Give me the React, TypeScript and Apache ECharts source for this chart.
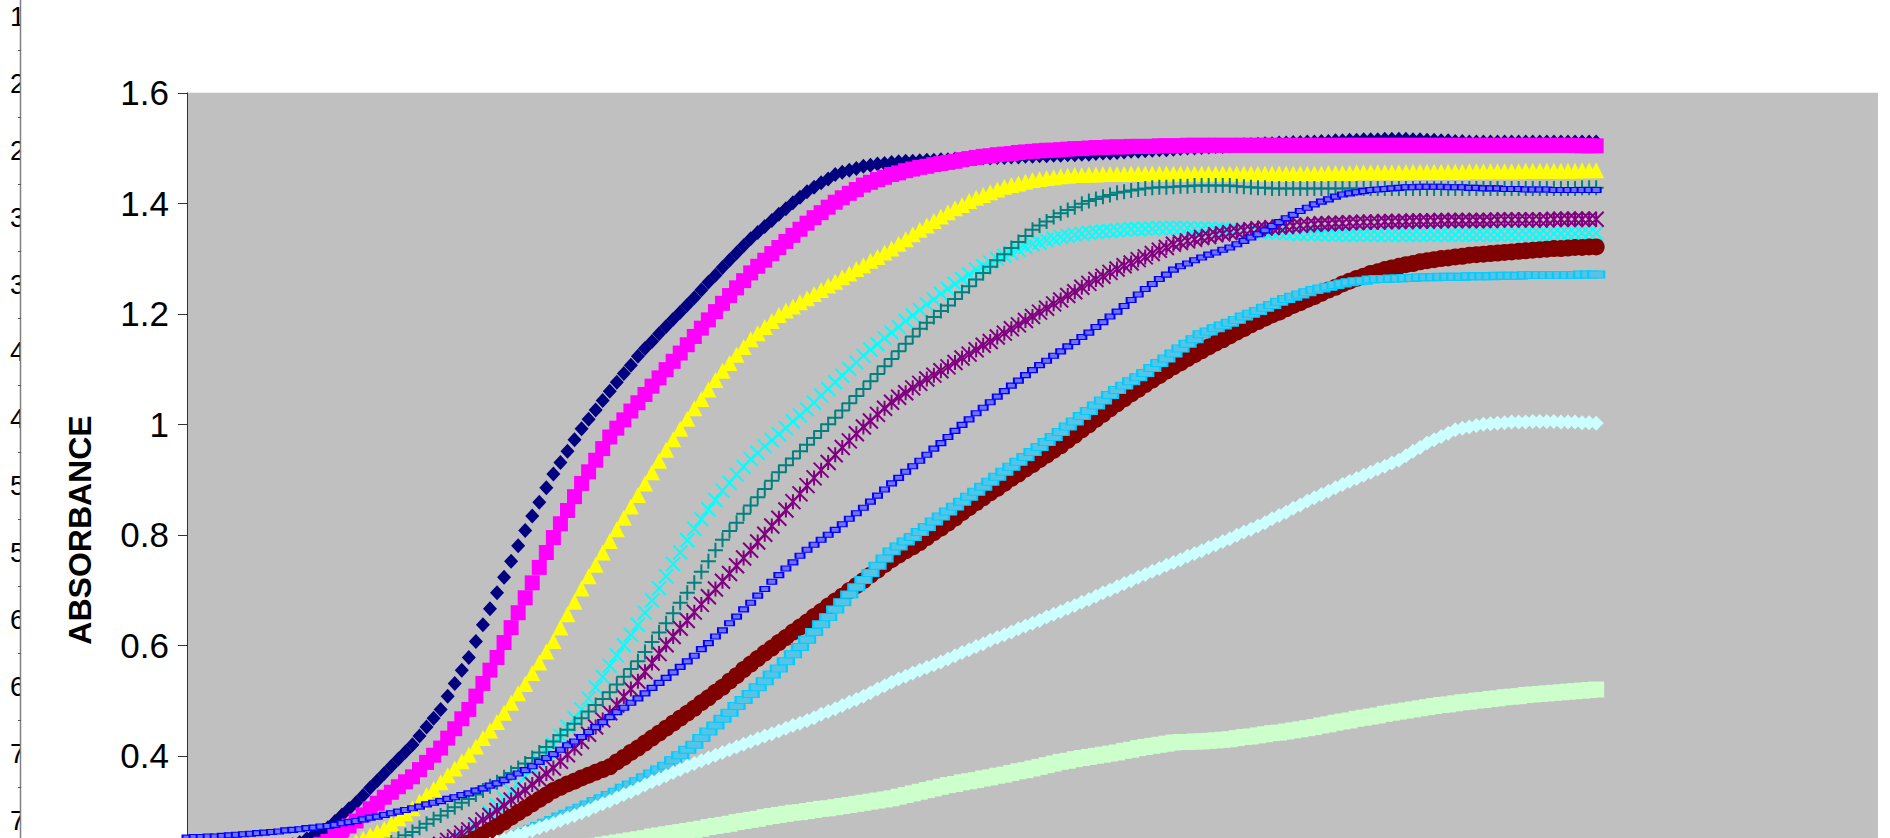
import React, { useEffect, useRef } from "react";
import * as echarts from "echarts";

// Absorbance readings taken every 15 s (0.25 min) from 0 to 50 min.
const READING_STEP_MIN = 0.25;

const Y_MIN = 0.2;
const Y_MAX = 1.6;
const Y_STEP = 0.2;
const X_MIN = 0;
const X_MAX = 60;
const X_STEP = 10;

const Y_TITLE = "ABSORBANCE";

// First characters of the neighbouring chart's axis labels, peeking out on the left.
const SIDE_LABELS = ["1", "2", "2", "3", "3", "4", "4", "5", "5", "6", "6", "7", "7"];

const NAVY = [
  .210, .211, .212, .212, .213, .214, .216, .217,
  .218, .220, .223, .225, .227, .231, .235, .239,
  .243, .250, .257, .263, .270, .281, .293, .304,
  .315, .328, .342, .355, .368, .381, .394, .407,
  .420, .436, .452, .468, .484, .508, .531, .555,
  .578, .607, .637, .666, .695, .723, .752, .780,
  .808, .834, .859, .885, .910, .931, .951, .972,
  .992, 1.009, 1.026, 1.043, 1.060, 1.076, 1.092, 1.107,
  1.123, 1.137, 1.150, 1.164, 1.177, 1.190, 1.203, 1.216,
  1.229, 1.243, 1.257, 1.270, 1.284, 1.297, 1.310, 1.323,
  1.336, 1.347, 1.358, 1.369, 1.380, 1.390, 1.401, 1.411,
  1.421, 1.429, 1.437, 1.444, 1.452, 1.456, 1.460, 1.463,
  1.467, 1.469, 1.471, 1.472, 1.474, 1.475, 1.476, 1.476,
  1.477, 1.478, 1.478, 1.479, 1.479, 1.480, 1.480, 1.481,
  1.481, 1.482, 1.482, 1.483, 1.483, 1.484, 1.484, 1.485,
  1.485, 1.486, 1.486, 1.487, 1.487, 1.488, 1.488, 1.489,
  1.489, 1.490, 1.491, 1.491, 1.492, 1.493, 1.494, 1.494,
  1.495, 1.496, 1.497, 1.497, 1.498, 1.499, 1.500, 1.500,
  1.501, 1.502, 1.503, 1.503, 1.504, 1.505, 1.506, 1.506,
  1.507, 1.508, 1.508, 1.509, 1.509, 1.510, 1.510, 1.511,
  1.511, 1.512, 1.512, 1.513, 1.513, 1.514, 1.514, 1.515,
  1.515, 1.515, 1.516, 1.516, 1.516, 1.516, 1.515, 1.515,
  1.514, 1.514, 1.513, 1.513, 1.512, 1.512, 1.511, 1.511,
  1.511, 1.511, 1.511, 1.511, 1.511, 1.511, 1.511, 1.511,
  1.511, 1.511, 1.511, 1.511, 1.511, 1.511, 1.511, 1.511,
  1.511,
];

const MAGENTA = [
  .205, .206, .206, .207, .207, .208, .209, .209,
  .210, .211, .213, .214, .215, .218, .220, .223,
  .225, .230, .235, .240, .245, .254, .264, .273,
  .282, .293, .304, .314, .325, .334, .344, .353,
  .362, .375, .388, .401, .414, .432, .449, .467,
  .484, .508, .531, .555, .578, .605, .632, .659,
  .686, .713, .741, .768, .795, .820, .844, .869,
  .893, .914, .935, .956, .977, .993, 1.008, 1.024,
  1.039, 1.054, 1.069, 1.084, 1.099, 1.114, 1.129, 1.144,
  1.159, 1.174, 1.189, 1.204, 1.219, 1.233, 1.247, 1.260,
  1.274, 1.286, 1.297, 1.309, 1.320, 1.331, 1.342, 1.353,
  1.364, 1.374, 1.383, 1.393, 1.402, 1.410, 1.418, 1.425,
  1.433, 1.438, 1.443, 1.447, 1.452, 1.455, 1.459, 1.462,
  1.465, 1.467, 1.470, 1.472, 1.474, 1.476, 1.479, 1.481,
  1.483, 1.485, 1.486, 1.488, 1.489, 1.490, 1.492, 1.493,
  1.494, 1.495, 1.496, 1.496, 1.497, 1.498, 1.499, 1.499,
  1.500, 1.501, 1.501, 1.502, 1.502, 1.502, 1.503, 1.503,
  1.503, 1.503, 1.504, 1.504, 1.504, 1.504, 1.505, 1.505,
  1.505, 1.505, 1.505, 1.505, 1.505, 1.505, 1.505, 1.505,
  1.505, 1.505, 1.505, 1.505, 1.505, 1.505, 1.505, 1.505,
  1.505, 1.505, 1.505, 1.505, 1.505, 1.505, 1.505, 1.505,
  1.505, 1.505, 1.505, 1.505, 1.505, 1.505, 1.505, 1.505,
  1.505, 1.505, 1.505, 1.505, 1.505, 1.505, 1.505, 1.505,
  1.505, 1.505, 1.505, 1.505, 1.505, 1.505, 1.505, 1.505,
  1.505, 1.505, 1.505, 1.505, 1.505, 1.505, 1.504, 1.504,
  1.504,
];

const YELLOW = [
  .200, .201, .201, .202, .202, .203, .204, .204,
  .205, .206, .207, .208, .209, .211, .213, .214,
  .216, .219, .222, .225, .228, .232, .236, .240,
  .244, .250, .256, .262, .268, .277, .287, .296,
  .305, .317, .329, .340, .352, .365, .377, .390,
  .402, .417, .432, .446, .461, .478, .496, .513,
  .530, .550, .569, .589, .608, .632, .656, .679,
  .703, .725, .746, .768, .789, .810, .831, .851,
  .872, .893, .913, .934, .954, .973, .992, 1.010,
  1.029, 1.046, 1.063, 1.080, 1.097, 1.111, 1.126, 1.140,
  1.154, 1.165, 1.176, 1.187, 1.198, 1.206, 1.213, 1.221,
  1.228, 1.236, 1.243, 1.251, 1.258, 1.266, 1.273, 1.281,
  1.288, 1.296, 1.303, 1.311, 1.318, 1.327, 1.335, 1.344,
  1.352, 1.360, 1.368, 1.376, 1.384, 1.391, 1.397, 1.404,
  1.410, 1.415, 1.420, 1.425, 1.430, 1.433, 1.436, 1.439,
  1.442, 1.444, 1.446, 1.447, 1.449, 1.450, 1.451, 1.451,
  1.452, 1.452, 1.453, 1.453, 1.453, 1.453, 1.454, 1.454,
  1.454, 1.454, 1.454, 1.454, 1.454, 1.454, 1.454, 1.454,
  1.454, 1.454, 1.454, 1.454, 1.454, 1.454, 1.454, 1.454,
  1.454, 1.454, 1.454, 1.454, 1.454, 1.454, 1.454, 1.454,
  1.454, 1.454, 1.455, 1.455, 1.455, 1.455, 1.456, 1.456,
  1.456, 1.456, 1.456, 1.456, 1.456, 1.456, 1.457, 1.457,
  1.457, 1.457, 1.457, 1.457, 1.457, 1.457, 1.458, 1.458,
  1.458, 1.458, 1.458, 1.458, 1.458, 1.458, 1.459, 1.459,
  1.459, 1.459, 1.459, 1.459, 1.459, 1.459, 1.460, 1.460,
  1.460,
];

const CYAN = [
  .195, .196, .196, .197, .197, .198, .198, .199,
  .199, .200, .200, .201, .201, .202, .203, .203,
  .204, .205, .206, .207, .208, .209, .210, .210,
  .211, .212, .213, .214, .215, .216, .218, .219,
  .220, .223, .225, .228, .230, .237, .244, .251,
  .258, .271, .284, .297, .310, .323, .336, .349,
  .362, .377, .391, .406, .420, .436, .452, .468,
  .484, .504, .524, .543, .563, .582, .600, .619,
  .637, .659, .681, .703, .725, .747, .768, .790,
  .811, .828, .846, .863, .880, .894, .909, .923,
  .937, .948, .960, .971, .982, .993, 1.005, 1.016,
  1.027, 1.039, 1.052, 1.064, 1.076, 1.088, 1.100, 1.112,
  1.124, 1.135, 1.145, 1.156, 1.166, 1.176, 1.187, 1.197,
  1.207, 1.217, 1.226, 1.236, 1.245, 1.254, 1.263, 1.271,
  1.280, 1.286, 1.293, 1.299, 1.305, 1.310, 1.316, 1.321,
  1.326, 1.329, 1.333, 1.336, 1.339, 1.341, 1.343, 1.345,
  1.347, 1.348, 1.349, 1.350, 1.351, 1.352, 1.353, 1.353,
  1.354, 1.354, 1.355, 1.355, 1.355, 1.355, 1.355, 1.354,
  1.354, 1.354, 1.353, 1.353, 1.352, 1.351, 1.351, 1.350,
  1.349, 1.348, 1.348, 1.347, 1.346, 1.346, 1.345, 1.345,
  1.344, 1.344, 1.344, 1.343, 1.343, 1.343, 1.343, 1.343,
  1.343, 1.343, 1.343, 1.343, 1.343, 1.343, 1.343, 1.343,
  1.343, 1.343, 1.343, 1.343, 1.343, 1.343, 1.343, 1.343,
  1.343, 1.343, 1.343, 1.343, 1.343, 1.343, 1.344, 1.344,
  1.344, 1.344, 1.345, 1.345, 1.345, 1.345, 1.346, 1.346,
  1.346,
];

const PURPLE = [
  .185, .186, .186, .187, .187, .188, .188, .189,
  .189, .190, .191, .191, .192, .193, .194, .195,
  .196, .197, .199, .200, .201, .203, .204, .206,
  .207, .209, .211, .212, .214, .217, .219, .222,
  .224, .228, .232, .236, .240, .247, .253, .260,
  .266, .275, .284, .292, .301, .310, .320, .329,
  .338, .348, .358, .368, .378, .390, .402, .414,
  .426, .439, .452, .465, .478, .492, .507, .521,
  .535, .552, .568, .585, .601, .616, .631, .645,
  .660, .674, .688, .702, .716, .730, .744, .758,
  .772, .787, .801, .816, .830, .845, .860, .874,
  .889, .903, .917, .931, .945, .958, .970, .983,
  .995, 1.006, 1.018, 1.029, 1.040, 1.049, 1.057, 1.066,
  1.074, 1.082, 1.089, 1.097, 1.104, 1.112, 1.120, 1.127,
  1.135, 1.143, 1.150, 1.158, 1.165, 1.173, 1.180, 1.188,
  1.195, 1.203, 1.210, 1.218, 1.225, 1.233, 1.240, 1.248,
  1.255, 1.262, 1.268, 1.275, 1.281, 1.287, 1.292, 1.298,
  1.303, 1.309, 1.315, 1.320, 1.326, 1.329, 1.332, 1.335,
  1.338, 1.340, 1.343, 1.345, 1.347, 1.349, 1.351, 1.352,
  1.354, 1.355, 1.356, 1.357, 1.358, 1.359, 1.360, 1.361,
  1.362, 1.363, 1.363, 1.364, 1.364, 1.365, 1.365, 1.366,
  1.366, 1.366, 1.367, 1.367, 1.367, 1.367, 1.368, 1.368,
  1.368, 1.368, 1.369, 1.369, 1.369, 1.369, 1.369, 1.369,
  1.369, 1.369, 1.370, 1.370, 1.370, 1.370, 1.370, 1.370,
  1.370, 1.370, 1.371, 1.371, 1.371, 1.371, 1.371, 1.371,
  1.371,
];

const MAROON = [
  .180, .181, .181, .182, .182, .183, .183, .184,
  .184, .185, .185, .186, .186, .187, .188, .188,
  .189, .190, .191, .192, .193, .194, .196, .197,
  .198, .200, .202, .203, .205, .208, .210, .213,
  .215, .218, .222, .225, .228, .232, .235, .239,
  .242, .250, .257, .265, .272, .280, .289, .297,
  .305, .313, .321, .329, .337, .343, .349, .354,
  .360, .365, .370, .375, .380, .389, .397, .406,
  .414, .423, .432, .441, .450, .459, .468, .477,
  .486, .496, .505, .515, .524, .535, .545, .556,
  .566, .576, .586, .595, .605, .614, .624, .633,
  .642, .652, .661, .671, .680, .689, .699, .708,
  .717, .727, .736, .746, .755, .763, .771, .778,
  .786, .795, .804, .812, .821, .830, .840, .849,
  .858, .867, .876, .884, .893, .902, .910, .919,
  .927, .936, .944, .953, .961, .971, .980, .990,
  .999, 1.009, 1.018, 1.028, 1.037, 1.046, 1.055, 1.063,
  1.072, 1.080, 1.088, 1.096, 1.104, 1.111, 1.119, 1.126,
  1.133, 1.140, 1.147, 1.153, 1.160, 1.167, 1.173, 1.180,
  1.186, 1.192, 1.198, 1.203, 1.209, 1.215, 1.220, 1.226,
  1.231, 1.237, 1.243, 1.248, 1.254, 1.259, 1.264, 1.268,
  1.273, 1.276, 1.280, 1.283, 1.286, 1.289, 1.291, 1.294,
  1.296, 1.298, 1.300, 1.301, 1.303, 1.304, 1.306, 1.307,
  1.308, 1.309, 1.310, 1.311, 1.312, 1.313, 1.314, 1.315,
  1.316, 1.317, 1.318, 1.318, 1.319, 1.320, 1.320, 1.321,
  1.321,
];

const TEAL = [
  .190, .191, .191, .192, .192, .193, .194, .194,
  .195, .196, .197, .198, .199, .201, .202, .204,
  .205, .207, .209, .210, .212, .215, .217, .220,
  .222, .226, .230, .233, .237, .243, .250, .256,
  .262, .270, .277, .285, .292, .300, .307, .315,
  .322, .330, .337, .345, .352, .361, .369, .378,
  .386, .396, .406, .416, .426, .437, .447, .458,
  .468, .480, .492, .503, .515, .529, .543, .557,
  .571, .588, .606, .623, .640, .658, .677, .695,
  .713, .733, .752, .772, .791, .807, .822, .838,
  .853, .868, .883, .898, .913, .926, .938, .951,
  .963, .975, .988, 1.000, 1.012, 1.025, 1.038, 1.051,
  1.064, 1.078, 1.091, 1.105, 1.118, 1.132, 1.146, 1.159,
  1.173, 1.184, 1.194, 1.205, 1.215, 1.227, 1.239, 1.250,
  1.262, 1.274, 1.285, 1.297, 1.308, 1.319, 1.330, 1.341,
  1.352, 1.360, 1.367, 1.375, 1.382, 1.388, 1.393, 1.399,
  1.404, 1.408, 1.412, 1.415, 1.419, 1.421, 1.423, 1.425,
  1.427, 1.428, 1.429, 1.429, 1.430, 1.431, 1.431, 1.432,
  1.432, 1.432, 1.432, 1.432, 1.432, 1.431, 1.430, 1.429,
  1.428, 1.428, 1.427, 1.427, 1.427, 1.427, 1.427, 1.427,
  1.427, 1.427, 1.427, 1.427, 1.427, 1.427, 1.427, 1.427,
  1.427, 1.427, 1.427, 1.427, 1.427, 1.427, 1.427, 1.427,
  1.427, 1.427, 1.427, 1.427, 1.427, 1.427, 1.427, 1.427,
  1.427, 1.427, 1.427, 1.427, 1.427, 1.427, 1.427, 1.427,
  1.427, 1.427, 1.427, 1.427, 1.427, 1.427, 1.428, 1.428,
  1.428,
];

const BLUE = [
  .252, .253, .253, .254, .254, .255, .256, .257,
  .258, .259, .260, .261, .262, .263, .265, .266,
  .267, .269, .270, .272, .273, .275, .278, .280,
  .282, .285, .288, .290, .293, .296, .299, .302,
  .305, .308, .312, .315, .318, .322, .325, .329,
  .332, .337, .341, .346, .350, .356, .362, .368,
  .374, .381, .389, .396, .403, .411, .419, .426,
  .434, .443, .452, .461, .470, .479, .487, .496,
  .504, .513, .523, .532, .541, .551, .561, .571,
  .581, .593, .604, .616, .627, .640, .652, .665,
  .677, .690, .702, .715, .727, .739, .750, .762,
  .773, .782, .791, .800, .809, .819, .829, .839,
  .849, .860, .871, .882, .893, .903, .914, .924,
  .934, .945, .956, .966, .977, .988, .999, 1.009,
  1.020, 1.030, 1.040, 1.050, 1.060, 1.070, 1.079, 1.089,
  1.098, 1.107, 1.115, 1.124, 1.132, 1.141, 1.149, 1.158,
  1.166, 1.176, 1.185, 1.195, 1.204, 1.214, 1.225, 1.235,
  1.245, 1.254, 1.263, 1.271, 1.280, 1.286, 1.291, 1.297,
  1.302, 1.307, 1.311, 1.316, 1.320, 1.326, 1.332, 1.338,
  1.344, 1.351, 1.359, 1.366, 1.373, 1.379, 1.386, 1.392,
  1.398, 1.403, 1.407, 1.412, 1.416, 1.418, 1.420, 1.422,
  1.424, 1.425, 1.426, 1.427, 1.428, 1.429, 1.429, 1.430,
  1.430, 1.430, 1.430, 1.429, 1.429, 1.429, 1.428, 1.428,
  1.427, 1.427, 1.427, 1.426, 1.426, 1.426, 1.425, 1.425,
  1.425, 1.425, 1.424, 1.424, 1.424, 1.424, 1.424, 1.424,
  1.424,
];

const SKY_BLUE = [
  .175, .176, .176, .177, .177, .178, .178, .179,
  .179, .180, .180, .181, .181, .182, .183, .183,
  .184, .185, .186, .186, .187, .188, .189, .190,
  .191, .192, .194, .195, .196, .198, .200, .201,
  .203, .206, .208, .211, .213, .216, .220, .223,
  .226, .230, .234, .237, .241, .246, .252, .257,
  .262, .268, .273, .279, .284, .290, .295, .301,
  .306, .312, .318, .323, .329, .335, .342, .348,
  .354, .361, .368, .375, .382, .392, .401, .411,
  .420, .432, .444, .455, .467, .478, .490, .501,
  .512, .524, .535, .547, .558, .571, .584, .597,
  .610, .624, .638, .651, .665, .678, .692, .705,
  .718, .731, .744, .757, .770, .779, .788, .796,
  .805, .814, .824, .833, .842, .851, .860, .869,
  .878, .887, .896, .905, .914, .923, .932, .941,
  .950, .959, .968, .977, .986, .996, 1.005, 1.015,
  1.024, 1.034, 1.043, 1.053, 1.062, 1.070, 1.078, 1.085,
  1.093, 1.102, 1.111, 1.119, 1.128, 1.137, 1.146, 1.154,
  1.163, 1.168, 1.174, 1.179, 1.184, 1.189, 1.195, 1.200,
  1.205, 1.211, 1.216, 1.222, 1.227, 1.231, 1.235, 1.239,
  1.243, 1.246, 1.249, 1.252, 1.255, 1.257, 1.259, 1.260,
  1.262, 1.263, 1.263, 1.264, 1.264, 1.265, 1.265, 1.266,
  1.266, 1.266, 1.267, 1.267, 1.267, 1.267, 1.268, 1.268,
  1.268, 1.268, 1.269, 1.269, 1.269, 1.269, 1.270, 1.270,
  1.270, 1.270, 1.270, 1.270, 1.270, 1.270, 1.271, 1.271,
  1.271,
];

const LIGHT_TURQUOISE = [
  .170, .171, .171, .172, .172, .173, .173, .174,
  .174, .175, .176, .176, .177, .178, .179, .179,
  .180, .181, .182, .183, .184, .185, .187, .188,
  .189, .191, .192, .194, .195, .197, .199, .201,
  .203, .206, .209, .211, .214, .218, .221, .225,
  .228, .232, .236, .240, .244, .248, .253, .257,
  .261, .265, .270, .274, .278, .283, .288, .292,
  .297, .302, .308, .313, .318, .324, .330, .335,
  .341, .347, .353, .358, .364, .370, .375, .381,
  .386, .391, .396, .401, .406, .411, .416, .421,
  .426, .431, .436, .440, .445, .450, .455, .459,
  .464, .469, .475, .480, .485, .491, .497, .502,
  .508, .514, .521, .527, .533, .539, .544, .550,
  .555, .560, .565, .570, .575, .581, .587, .592,
  .598, .603, .609, .614, .619, .624, .630, .635,
  .640, .645, .651, .656, .661, .667, .672, .678,
  .683, .689, .695, .700, .706, .712, .717, .723,
  .728, .734, .739, .745, .750, .755, .761, .766,
  .771, .777, .782, .788, .793, .799, .805, .810,
  .816, .822, .829, .835, .841, .848, .854, .861,
  .867, .873, .879, .885, .891, .897, .902, .908,
  .913, .919, .924, .930, .935, .943, .951, .958,
  .966, .972, .978, .984, .990, .993, .995, .998,
  1.000, 1.001, 1.002, 1.003, 1.004, 1.004, 1.004, 1.005,
  1.005, 1.005, 1.005, 1.004, 1.004, 1.004, 1.003, 1.003,
  1.002,
];

const LIGHT_GREEN = [
  .150, .151, .153, .154, .155, .156, .158, .159,
  .160, .161, .163, .164, .165, .166, .168, .169,
  .170, .171, .173, .174, .175, .176, .178, .179,
  .180, .182, .183, .185, .186, .188, .189, .191,
  .192, .194, .195, .197, .198, .200, .202, .203,
  .205, .207, .209, .210, .212, .214, .216, .217,
  .219, .221, .223, .224, .226, .228, .230, .231,
  .233, .235, .237, .239, .241, .243, .245, .247,
  .249, .251, .254, .256, .258, .260, .262, .264,
  .266, .268, .271, .273, .275, .277, .280, .282,
  .284, .286, .289, .291, .293, .295, .297, .298,
  .300, .302, .304, .305, .307, .309, .311, .313,
  .315, .317, .319, .321, .323, .326, .329, .332,
  .335, .338, .341, .344, .347, .349, .352, .354,
  .356, .359, .361, .364, .366, .369, .372, .374,
  .377, .380, .383, .386, .389, .391, .394, .396,
  .398, .400, .402, .404, .406, .409, .411, .414,
  .416, .418, .420, .422, .424, .425, .425, .426,
  .426, .427, .428, .429, .430, .432, .434, .435,
  .437, .439, .441, .442, .444, .446, .448, .450,
  .452, .455, .457, .460, .462, .464, .467, .469,
  .471, .473, .476, .478, .480, .482, .484, .486,
  .488, .490, .492, .493, .495, .497, .498, .500,
  .501, .503, .504, .506, .507, .508, .510, .511,
  .512, .513, .514, .515, .516, .517, .518, .519,
  .520,
];

const FONT = '"Liberation Sans", Arial, Helvetica, sans-serif';

const X_MARK = "path://M0 0L10 10M10 0L0 10";
const STAR_MARK = "path://M0 0L10 10M10 0L0 10M5 0L5 10";
const PLUS_MARK = "path://M5 0L5 10M0 5L10 5";

const toPoints = (values: number[]) =>
  values.map((v, i) => [i * READING_STEP_MIN, v]);

function filled(name: string, values: number[], symbol: string, size: any, color: string, extra: any = {}) {
  return {
    type: "scatter",
    name,
    data: toPoints(values),
    symbol,
    symbolSize: size,
    silent: true,
    animation: false,
    emphasis: { disabled: true },
    itemStyle: { color, opacity: 1, borderWidth: 0, ...extra },
  };
}

function stroked(name: string, values: number[], symbol: string, size: number, color: string) {
  return {
    type: "scatter",
    name,
    data: toPoints(values),
    symbol,
    symbolSize: size,
    silent: true,
    animation: false,
    emphasis: { disabled: true },
    itemStyle: { color: "none", borderColor: color, borderWidth: 2, opacity: 1 },
  };
}

function buildOption() {
  const side: any[] = SIDE_LABELS.map((s, k) => ({
    type: "text",
    x: 10,
    y: 17 + 67 * k,
    z2: 1,
    style: {
      text: s,
      font: `27px ${FONT}`,
      fill: "#000",
      align: "left",
      verticalAlign: "middle",
      textAlign: "left",
      textVerticalAlign: "middle",
    },
  }));
  const sideTicks: any[] = SIDE_LABELS.slice(1).map((_, k) => ({
    type: "line",
    z2: 4,
    shape: { x1: 18, y1: 50.5 + 67 * k, x2: 21, y2: 50.5 + 67 * k },
    style: { stroke: "#555", lineWidth: 1 },
  }));

  return {
    animation: false,
    backgroundColor: "#ffffff",
    grid: {
      left: 187,
      top: 92.8,
      width: 1691,
      height: 773.5,
      show: true,
      backgroundColor: "#C0C0C0",
      borderWidth: 0,
      containLabel: false,
      outerBoundsMode: "none",
    },
    xAxis: {
      type: "value",
      min: X_MIN,
      max: X_MAX,
      interval: X_STEP,
      axisLine: { show: true, lineStyle: { color: "#333" } },
      axisTick: { show: false },
      axisLabel: { show: false },
      splitLine: { show: false },
    },
    yAxis: {
      type: "value",
      min: Y_MIN,
      max: Y_MAX,
      interval: Y_STEP,
      axisLine: { show: true, onZero: false, lineStyle: { color: "#333", width: 1 } },
      axisTick: { show: true, inside: false, length: 9, lineStyle: { color: "#333", width: 1 } },
      axisLabel: {
        show: true,
        showMinLabel: false,
        margin: 18,
        fontSize: 35,
        fontFamily: FONT,
        color: "#000",
      },
      splitLine: { show: false },
    },
    series: [
      filled("Run 1", NAVY, "diamond", [14, 15], "#000080"),
      filled("Run 2", MAGENTA, "rect", 15, "#FF00FF"),
      filled("Run 3", YELLOW, "triangle", 16, "#FFFF00"),
      stroked("Run 4", CYAN, X_MARK, 14, "#00FFFF"),
      stroked("Run 5", PURPLE, STAR_MARK, 15, "#800080"),
      filled("Run 6", MAROON, "circle", 17, "#800000"),
      stroked("Run 7", TEAL, PLUS_MARK, 15, "#008080"),
      filled("Run 8", BLUE, "rect", [9, 5], "#7070ff", { borderColor: "#0000FF", borderWidth: 1.5 }),
      filled("Run 9", SKY_BLUE, "rect", [16, 7], "#55c4e6", { borderColor: "#00CCFF", borderWidth: 1.5 }),
      filled("Run 10", LIGHT_TURQUOISE, "diamond", 15, "#CCFFFF"),
      filled("Run 11", LIGHT_GREEN, "rect", 16, "#CCFFCC"),
    ],
    graphic: [
      ...side,
      {
        type: "rect",
        z2: 2,
        shape: { x: 21, y: 0, width: 24, height: 838 },
        style: { fill: "#ffffff" },
      },
      {
        type: "line",
        z2: 3,
        shape: { x1: 20.5, y1: 0, x2: 20.5, y2: 838 },
        style: { stroke: "#808080", lineWidth: 1.5 },
      },
      ...sideTicks,
      {
        type: "text",
        x: 80,
        y: 530,
        rotation: Math.PI / 2,
        z2: 5,
        style: {
          text: Y_TITLE,
          font: `bold 32px ${FONT}`,
          fill: "#000",
          align: "center",
          verticalAlign: "middle",
          textAlign: "center",
          textVerticalAlign: "middle",
        },
      },
    ],
  };
}

export default function App() {
  const ref = useRef<HTMLDivElement | null>(null);

  useEffect(() => {
    if (!ref.current) return;
    const chart = echarts.init(ref.current, undefined, { renderer: "svg" });
    chart.setOption(buildOption() as any);
    return () => chart.dispose();
  }, []);

  return (
    <div
      ref={ref}
      style={{
        position: "absolute",
        left: 0,
        top: 0,
        width: 1890,
        height: 838,
        overflow: "hidden",
        background: "#ffffff",
      }}
    />
  );
}
